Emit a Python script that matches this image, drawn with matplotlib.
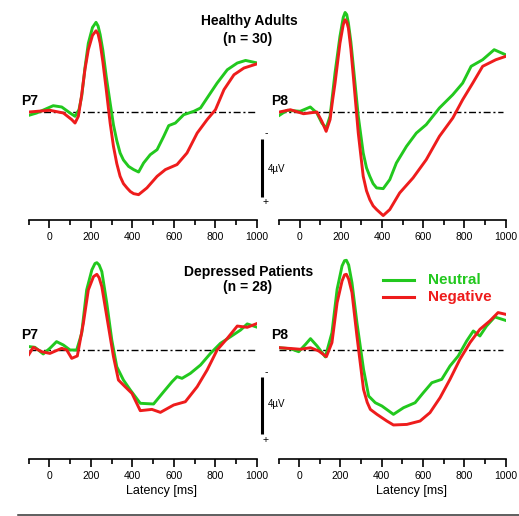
import matplotlib
matplotlib.use("Agg")
import matplotlib.pyplot as plt
from matplotlib.lines import Line2D

plt.rcParams['font.family'] = ['Liberation Sans', 'DejaVu Sans']

# ERP waveforms, latency in ms, amplitude in microvolt (negative plotted up)
# healthy adults, P7
ha_p7_neu_t = [-98, -61, 19, 60, 100, 124, 143, 156, 172, 188, 208, 225, 235, 245, 258, 274, 293, 309, 325, 341, 357, 382, 406, 430, 454, 486, 519, 551, 575, 607, 647, 696, 728, 760, 808, 857, 905, 945, 1002]
ha_p7_neu_v = [0.23, 0.07, -0.44, -0.35, 0.07, 0.3, -0.16, -1.1, -3.1, -4.8, -5.9, -6.26, -6.0, -5.4, -4.3, -2.5, -0.63, 0.9, 2.0, 2.86, 3.35, 3.8, 4.02, 4.19, 3.56, 2.98, 2.63, 1.70, 0.95, 0.77, 0.19, -0.05, -0.28, -0.98, -2.02, -2.95, -3.42, -3.6, -3.42]
ha_p7_neg_t = [-98, 3, 68, 108, 124, 140, 156, 172, 188, 208, 225, 235, 245, 258, 274, 293, 309, 325, 341, 357, 374, 390, 406, 430, 470, 519, 559, 615, 663, 712, 760, 800, 841, 889, 937, 1002]
ha_p7_neg_v = [0.0, -0.12, 0.07, 0.53, 0.77, 0.3, -1.2, -3.0, -4.35, -5.35, -5.67, -5.45, -4.8, -3.5, -1.6, 0.77, 2.4, 3.6, 4.49, 5.0, 5.3, 5.55, 5.7, 5.77, 5.3, 4.49, 4.02, 3.67, 2.86, 1.47, 0.53, -0.16, -1.56, -2.6, -3.07, -3.37]

# healthy adults, P8
ha_p8_neu_t = [-98, -61, 3, 52, 84, 108, 129, 148, 160, 172, 196, 212, 221, 229, 237, 249, 261, 285, 309, 325, 341, 357, 374, 406, 438, 470, 519, 567, 615, 679, 744, 792, 833, 889, 945, 1000]
ha_p8_neu_v = [0.23, -0.12, -0.05, -0.35, 0.07, 0.77, 1.12, 0.3, -1.2, -2.72, -5.28, -6.6, -6.95, -6.8, -6.21, -4.9, -3.19, 0.3, 2.86, 3.9, 4.49, 5.0, 5.3, 5.35, 4.72, 3.56, 2.4, 1.47, 0.88, -0.28, -1.21, -2.02, -3.19, -3.65, -4.35, -4.0]
ha_p8_neg_t = [-98, -45, 19, 84, 108, 129, 148, 160, 172, 196, 212, 221, 229, 237, 249, 261, 285, 309, 325, 341, 357, 374, 406, 438, 486, 551, 615, 679, 744, 792, 841, 889, 953, 1000]
ha_p8_neg_v = [0.0, -0.16, 0.12, 0.0, 0.65, 1.35, 0.53, -0.8, -2.0, -4.8, -6.1, -6.44, -6.3, -5.86, -4.4, -2.49, 1.47, 4.49, 5.5, 6.12, 6.55, 6.81, 7.23, 6.81, 5.65, 4.6, 3.33, 1.7, 0.42, -0.86, -2.02, -3.19, -3.65, -3.88]

# depressed patients, P7
dp_p7_neu_t = [-98, -69, -29, 3, 35, 68, 100, 132, 156, 180, 205, 220, 229, 240, 253, 277, 301, 325, 357, 390, 438, 502, 551, 591, 615, 639, 679, 728, 776, 824, 873, 921, 953, 1002]
dp_p7_neu_v = [-0.24, -0.19, 0.28, -0.12, -0.59, -0.35, 0.0, 0.0, -1.18, -4.24, -5.65, -6.1, -6.16, -6.0, -5.53, -3.29, -0.7, 1.18, 2.12, 2.82, 3.76, 3.81, 2.94, 2.24, 1.88, 2.0, 1.65, 1.06, 0.24, -0.47, -0.94, -1.41, -1.84, -1.6]
dp_p7_neg_t = [-98, -77, -37, 3, 60, 84, 108, 135, 164, 188, 213, 229, 240, 253, 277, 309, 333, 365, 398, 438, 494, 535, 599, 655, 712, 760, 808, 857, 905, 953, 1002]
dp_p7_neg_v = [0.31, -0.19, 0.12, 0.24, -0.12, 0.0, 0.59, 0.42, -1.88, -4.24, -5.18, -5.34, -5.1, -4.47, -2.35, 0.47, 2.12, 2.59, 3.06, 4.28, 4.19, 4.4, 3.88, 3.65, 2.59, 1.41, 0.0, -0.82, -1.69, -1.6, -1.88]

# depressed patients, P8
dp_p8_neu_t = [-95, -42, -2, 31, 55, 87, 127, 159, 184, 208, 220, 229, 240, 256, 280, 312, 337, 369, 401, 457, 506, 562, 602, 643, 691, 731, 771, 812, 844, 876, 908, 948, 1000]
dp_p8_neu_v = [-0.16, -0.09, 0.12, -0.4, -0.8, -0.28, 0.49, -1.22, -4.28, -5.93, -6.3, -6.33, -6.0, -4.75, -1.93, 1.36, 3.25, 3.72, 3.95, 4.54, 4.07, 3.72, 3.01, 2.31, 2.07, 1.13, 0.42, -0.64, -1.34, -0.99, -1.69, -2.33, -2.09]
dp_p8_neg_t = [-95, -26, 6, 55, 95, 132, 159, 184, 208, 220, 229, 240, 256, 280, 312, 330, 345, 377, 425, 457, 522, 586, 634, 683, 731, 779, 828, 876, 924, 964, 1000]
dp_p8_neg_v = [-0.16, -0.09, -0.05, -0.16, 0.07, 0.47, -0.52, -3.34, -4.87, -5.3, -5.34, -5.0, -4.05, -0.99, 2.78, 3.7, 4.19, 4.54, 5.01, 5.29, 5.25, 5.01, 4.42, 3.36, 2.07, 0.66, -0.52, -1.46, -2.05, -2.64, -2.52]

major_ticks = [0, 200, 400, 600, 800, 1000]
minor_ticks = [-100, 100, 300, 500, 700, 900]

green = "#22c81e"
red = "#ee1c1c"

W, H = 519, 516
fig = plt.figure(figsize=(W / 100, H / 100), dpi=100)


def px_axes(x0, x1, y0, y1):  # pixel box -> axes
    return fig.add_axes([x0 / W, 1 - y1 / H, (x1 - x0) / W, (y1 - y0) / H])


def setup(ax, ylim):
    ax.set_xlim(-100, 1000)
    ax.set_ylim(*ylim)
    for s in ["top", "right", "left"]:
        ax.spines[s].set_visible(False)
    ax.spines["bottom"].set_linewidth(1.2)
    ax.set_yticks([])
    ax.set_xticks(major_ticks)
    ax.set_xticks(minor_ticks, minor=True)
    ax.tick_params(axis="x", which="major", length=6, width=1.2, labelsize=7.5, pad=2.5)
    ax.tick_params(axis="x", which="minor", length=3.5, width=1.2)
    ax.patch.set_alpha(0)
    ax.plot([-100, 990], [0, 0], color="black", lw=1.0, dashes=(5, 2, 1.5, 2), zorder=1)


top_lim = (7.54, -7.82)
bot_lim = (7.69, -7.76)

ax1 = px_axes(28.5, 257, 0, 220)
ax2 = px_axes(279, 505.5, 0, 220)
ax3 = px_axes(28.5, 257, 240, 459)
ax4 = px_axes(278.5, 505.5, 240, 459)

panels = [
    (ax1, top_lim, ha_p7_neu_t, ha_p7_neu_v, ha_p7_neg_t, ha_p7_neg_v),
    (ax2, top_lim, ha_p8_neu_t, ha_p8_neu_v, ha_p8_neg_t, ha_p8_neg_v),
    (ax3, bot_lim, dp_p7_neu_t, dp_p7_neu_v, dp_p7_neg_t, dp_p7_neg_v),
    (ax4, bot_lim, dp_p8_neu_t, dp_p8_neu_v, dp_p8_neg_t, dp_p8_neg_v),
]
for ax, lim, gt, gv, rt, rv in panels:
    setup(ax, lim)
    ax.plot(gt, gv, color=green, lw=2.1, solid_joinstyle="round", zorder=3)
    ax.plot(rt, rv, color=red, lw=2.1, solid_joinstyle="round", zorder=4)

# 4 microvolt scale bars
for ax in [ax1, ax3]:
    ax.plot([1024, 1024], [1.9, 5.9], color="black", lw=2.2, clip_on=False, solid_capstyle="butt")

bold = dict(fontweight="bold", fontsize=10)
fig.text(249 / W, 1 - 21 / H, "Healthy Adults", ha="center", va="center", **bold)
fig.text(248 / W, 1 - 39 / H, "(n = 30)", ha="center", va="center", **bold)
fig.text(249 / W, 1 - 272 / H, "Depressed Patients", ha="center", va="center", **bold)
fig.text(248 / W, 1 - 287 / H, "(n = 28)", ha="center", va="center", **bold)

for x, y, lab in [(21, 101, "P7"), (271, 101, "P8"), (21, 335, "P7"), (271, 335, "P8")]:
    fig.text(x / W, 1 - y / H, lab, ha="left", va="center", **bold)

for yb, ym, yp in [(133, 169, 202), (372, 404, 440)]:
    fig.text(266 / W, 1 - yb / H, "-", ha="center", va="center", fontsize=7.5)
    fig.text(268 / W, 1 - ym / H, "4\u00b5V", ha="left", va="center", fontsize=7)
    fig.text(266 / W, 1 - yp / H, "+", ha="center", va="center", fontsize=7.5)

fig.text(161.5 / W, 1 - 491 / H, "Latency [ms]", ha="center", va="center", fontsize=9)
fig.text(412 / W, 1 - 491 / H, "Latency [ms]", ha="center", va="center", fontsize=9)

# legend
fig.add_artist(Line2D([383 / W, 414 / W], [1 - 280 / H, 1 - 280 / H], color=green, lw=2.2))
fig.add_artist(Line2D([383 / W, 414 / W], [1 - 297 / H, 1 - 297 / H], color=red, lw=2.2))
fig.text(428 / W, 1 - 280 / H, "Neutral", color=green, ha="left", va="center", fontweight="bold", fontsize=11)
fig.text(428 / W, 1 - 297 / H, "Negative", color=red, ha="left", va="center", fontweight="bold", fontsize=11)

fig.add_artist(Line2D([18 / W, 1.0], [1 - 514.5 / H, 1 - 514.5 / H], color="#333333", lw=1.1))

fig.savefig("out.png", dpi=100)
